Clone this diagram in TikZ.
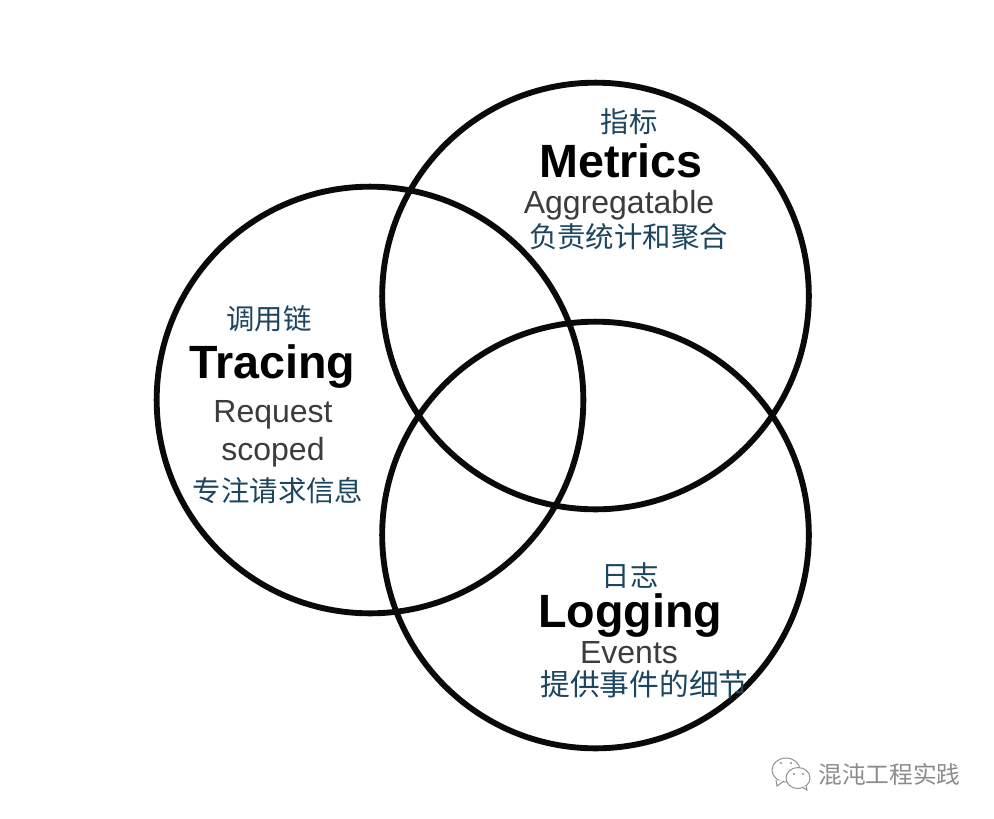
\documentclass[tikz,border=0pt]{standalone}
\usepackage{fontspec}
\setmainfont{Liberation Sans}
\newfontfamily\cjk{Noto Sans CJK SC}
\definecolor{ringc}{HTML}{0A0A0A}
\definecolor{cnc}{HTML}{1C4560}
\definecolor{subc}{HTML}{3C3C3C}
\definecolor{markc}{HTML}{8C8C8C}
\usetikzlibrary{positioning}
\tikzset{
  ring/.style={draw=ringc,circle,line width=4.4pt,minimum size=#1,inner sep=0pt,outer sep=0pt},
  title/.style={font=\fontsize{35}{36}\selectfont\bfseries,text=black,inner sep=0pt},
  sub/.style={font=\fontsize{24}{26}\selectfont,text=subc,inner sep=0pt},
  cn/.style={font=\cjk\fontsize{21.3}{24}\selectfont,text=cnc,inner sep=0pt},
  wmark/.style={font=\cjk\fontsize{17.8}{20}\selectfont,text=markc,inner sep=0pt},
  bub/.style={draw=markc,line width=0.7pt,fill=white},
}
\begin{document}
\begin{tikzpicture}[x=0.75pt,y=-0.75pt]
  \useasboundingbox[fill=white] (0,0) rectangle (994,818);
  % the three rings
  \node[ring=320pt] (metricsring) at (595.5,296) {};
  \node[ring=320pt] (tracingring) at (370,400) {};
  \node[ring=320pt] (loggingring) at (595.5,535) {};
  % metrics
  \node[cn] (metricscn) at (629,122) {指标};
  \node[title] (metricsname) at (621,161) {Metrics};
  \node[sub] (metricssub) at (619,205) {Aggregatable};
  \node[cn] (metricsnote) at (628.5,237) {负责统计和聚合};
  % tracing
  \node[cn] (tracingcn) at (269,319) {调用链};
  \node[title] (tracingname) at (272.5,367) {Tracing};
  \node[sub] (tracingsub) at (273,415) {Request};
  \node[sub] (tracingsubb) at (273,452) {scoped};
  \node[cn] (tracingnote) at (278,491) {专注请求信息};
  % logging
  \node[cn] (loggingcn) at (630,576) {日志};
  \node[title] (loggingname) at (630,616) {Logging};
  \node[sub] (loggingsub) at (629,653) {Events};
  \node[cn,font=\cjk\fontsize{22.3}{24}\selectfont] (loggingnote) at (644.5,684) {提供事件的细节};
  % watermark
  \draw[bub] (786,770) ellipse (14 and 12);
  \draw[bub] (776,780) -- (777,786) -- (784,781);
  \draw[bub] (798,778) ellipse (12 and 10.5);
  \draw[bub] (802,787) -- (807,790) -- (806,786);
  \foreach \x/\y in {781/763,791/763,794/774,803/774} \fill[markc] (\x,\y) circle (1.2);
  \node[wmark] (markname) at (889.5,774) {混沌工程实践};
\end{tikzpicture}
\end{document}
